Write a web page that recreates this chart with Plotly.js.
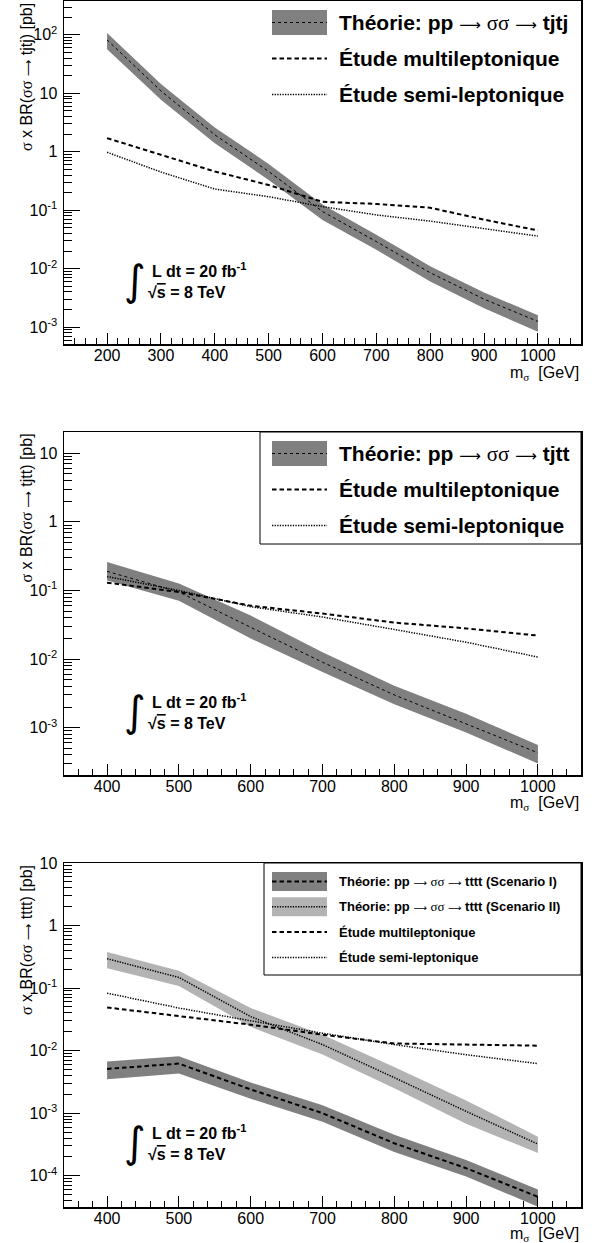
<!DOCTYPE html>
<html><head><meta charset="utf-8">
<script src="https://cdn.plot.ly/plotly-3.0.1.min.js"></script>
<style>body{margin:0;background:#fff}</style></head>
<body><div id="plot" style="width:592px;height:1243px"></div>
<script>
// ---------- Panel 1 : sigma sigma -> tjtj ----------
const mass1   = [200, 300, 400, 500, 600, 700, 800, 900, 1000];
const theo1   = [82, 11, 1.95, 0.46, 0.095, 0.029, 0.0085, 0.0030, 0.00125];
const theo1Up = [108, 14.5, 2.6, 0.62, 0.125, 0.038, 0.011, 0.0039, 0.0016];
const theo1Lo = [57, 7.8, 1.4, 0.33, 0.068, 0.021, 0.0060, 0.0021, 0.00083];
const multi1  = [1.71, 0.89, 0.46, 0.27, 0.139, 0.128, 0.11, 0.069, 0.045];
const semi1   = [0.98, 0.45, 0.23, 0.17, 0.115, 0.083, 0.065, 0.048, 0.036];

// ---------- Panel 2 : sigma sigma -> tjtt ----------
const mass2   = [400, 500, 600, 700, 800, 900, 1000];
const theo2   = [0.19, 0.095, 0.029, 0.0090, 0.0030, 0.00115, 0.00043];
const theo2Up = [0.26, 0.126, 0.043, 0.0126, 0.0041, 0.0016, 0.00056];
const theo2Lo = [0.14, 0.071, 0.020, 0.0065, 0.0022, 0.00085, 0.00030];
const multi2  = [0.13, 0.095, 0.060, 0.046, 0.034, 0.028, 0.022];
const semi2   = [0.16, 0.10, 0.058, 0.041, 0.027, 0.0176, 0.0107];

// ---------- Panel 3 : sigma sigma -> tttt ----------
const mass3     = [400, 500, 600, 700, 800, 900, 1000];
const theoI     = [0.0051, 0.0062, 0.0024, 0.0010, 0.00033, 0.000132, 0.000046];
const theoIUp   = [0.0067, 0.0081, 0.0031, 0.00134, 0.00045, 0.000178, 0.000060];
const theoILo   = [0.0035, 0.0043, 0.0017, 0.00073, 0.00024, 0.0000975, 0.000032];
const theoII    = [0.295, 0.148, 0.035, 0.0125, 0.0037, 0.00107, 0.00032];
const theoIIUp  = [0.377, 0.19, 0.048, 0.018, 0.0055, 0.0016, 0.00042];
const theoIILo  = [0.208, 0.108, 0.024, 0.0087, 0.0025, 0.00068, 0.00023];
const multi3    = [0.049, 0.036, 0.026, 0.018, 0.013, 0.0125, 0.012];
const semi3     = [0.083, 0.048, 0.030, 0.019, 0.0125, 0.0086, 0.0062];

// ---------- tick labels ----------
const yTickVals = [1e-4, 1e-3, 1e-2, 1e-1, 1, 10, 100];
const yTickText = ['10<sup>-4</sup>', '10<sup>-3</sup>', '10<sup>-2</sup>', '10<sup>-1</sup>', '1', '10', '10<sup>2</sup>'];

// ---------- texts ----------
const SIG = '<span style="font-family:\'Liberation Serif\';font-weight:normal">σσ</span>';
const SIG1 = '<span style="font-family:\'Liberation Serif\'">σ</span>';
const ARR = '<span style="font-family:\'DejaVu Sans\';font-weight:normal;font-size:72%">⟶</span>';
const yTitles = [
  SIG1 + ' x BR(' + SIG + ' ' + ARR + ' tjtj) [pb]',
  SIG1 + ' x BR(' + SIG + ' ' + ARR + ' tjtt) [pb]',
  SIG1 + ' x BR(' + SIG + ' ' + ARR + ' tttt) [pb]'
];
const xTitle = 'm<sub>' + SIG1 + '</sub>  [GeV]';
const legTexts = [
  ['Théorie: pp ' + ARR + ' ' + SIG + ' ' + ARR + ' tjtj', 'Étude multileptonique', 'Étude semi-leptonique'],
  ['Théorie: pp ' + ARR + ' ' + SIG + ' ' + ARR + ' tjtt', 'Étude multileptonique', 'Étude semi-leptonique'],
  ['Théorie: pp ' + ARR + ' ' + SIG + ' ' + ARR + ' tttt (Scenario I)',
   'Théorie: pp ' + ARR + ' ' + SIG + ' ' + ARR + ' tttt (Scenario II)',
   'Étude multileptonique', 'Étude semi-leptonique']
];

// ---------- geometry (pixels) ----------
const W = 592, H = 1243;
const FX0 = 64, FX1 = 581;
const panels = [
  {top: 1,   bot: 344,  yr: [-3.29, 2.58], xr: [120, 1080], xt: 29},
  {top: 432, bot: 775,  yr: [-3.69, 1.31], xr: [340, 1060], xt: 28},
  {top: 863, bot: 1207, yr: [-4.5, 1.0],   xr: [340, 1060], xt: 27}
];
const px = v => v / W;
const py = v => 1 - v / H;

const BAND = '#808080', BAND_L = '#b3b3b3';
const DASH_T = '3px,3px', DASH_M = '4.5px,3px', DOT = '1.3px,1.3px';

function minorVals(lo, hi) {
  const out = [];
  for (let d = Math.floor(lo); d <= Math.ceil(hi); d++)
    for (let k = 2; k <= 9; k++) out.push(k * Math.pow(10, d));
  return out;
}

const traces = [];
function band(x, lo, up, ax, color) {
  traces.push({x: x, y: lo, xaxis: ax.x, yaxis: ax.y, mode: 'lines', line: {width: 0, color: color}, hoverinfo: 'skip', showlegend: false});
  traces.push({x: x, y: up, xaxis: ax.x, yaxis: ax.y, mode: 'lines', line: {width: 0, color: color}, fill: 'tonexty', fillcolor: color, hoverinfo: 'skip', showlegend: false});
}
function line(x, y, ax, width, dash) {
  traces.push({x: x, y: y, xaxis: ax.x, yaxis: ax.y, mode: 'lines', line: {width: width, color: '#000', dash: dash}, showlegend: false});
}
const A = [{x: 'x', y: 'y'}, {x: 'x2', y: 'y2'}, {x: 'x3', y: 'y3'}];

band(mass1, theo1Lo, theo1Up, A[0], BAND);
line(mass1, theo1, A[0], 1, DASH_T);
line(mass1, multi1, A[0], 2, DASH_M);
line(mass1, semi1, A[0], 1.5, DOT);

band(mass2, theo2Lo, theo2Up, A[1], BAND);
line(mass2, theo2, A[1], 1, DASH_T);
line(mass2, multi2, A[1], 2, DASH_M);
line(mass2, semi2, A[1], 1.5, DOT);

band(mass3, theoILo, theoIUp, A[2], BAND);
band(mass3, theoIILo, theoIIUp, A[2], BAND_L);
line(mass3, theoI, A[2], 2, DASH_M);
line(mass3, theoII, A[2], 1.5, DOT);
line(mass3, multi3, A[2], 2, DASH_M);
line(mass3, semi3, A[2], 1.5, DOT);

const FONT = 'Liberation Sans, Arial, sans-serif';
const layout = {
  width: W, height: H,
  margin: {l: 0, r: 0, t: 0, b: 0},
  paper_bgcolor: '#fff', plot_bgcolor: '#fff',
  font: {family: FONT, size: 16, color: '#000'},
  showlegend: false,
  shapes: [], annotations: []
};

panels.forEach((p, i) => {
  const sx = i === 0 ? '' : String(i + 1);
  layout['xaxis' + sx] = {
    domain: [px(FX0), px(FX1)], anchor: 'y' + sx, range: p.xr,
    tickmode: 'linear', tick0: 0, dtick: 100, ticks: 'inside', ticklen: 11, tickwidth: 1, tickcolor: '#000',
    minor: {dtick: 20, tick0: 0, ticks: 'inside', ticklen: 6, tickwidth: 1, tickcolor: '#000', showgrid: false},
    showline: true, linewidth: 1.5, linecolor: '#000', mirror: true, showgrid: false, zeroline: false,
    tickfont: {size: 16, family: FONT}, ticklabelstandoff: -4
  };
  layout['yaxis' + sx] = {
    domain: [py(p.bot), py(p.top)], anchor: 'x' + sx, type: 'log', range: p.yr,
    tickmode: 'array', tickvals: yTickVals, ticktext: yTickText,
    ticks: 'inside', ticklen: 16, tickwidth: 1, tickcolor: '#000',
    minor: {tickmode: 'array', tickvals: minorVals(p.yr[0], p.yr[1]), ticks: 'inside', ticklen: 8, tickwidth: 1, tickcolor: '#000', showgrid: false},
    showline: true, linewidth: 1.5, linecolor: '#000', mirror: true, showgrid: false, zeroline: false,
    tickfont: {size: 16, family: FONT}, ticklabelstandoff: 2
  };
  // axis titles
  layout.annotations.push({xref: 'paper', yref: 'paper', x: px(26), y: py(p.top), xanchor: 'center', yanchor: 'top',
    text: yTitles[i], textangle: -90, showarrow: false, font: {size: 16, family: FONT}});
  layout.annotations.push({xref: 'paper', yref: 'paper', x: px(FX1), y: py(p.bot + p.xt), xanchor: 'right', yanchor: 'middle',
    text: xTitle, showarrow: false, font: {size: 16, family: FONT}});
  // luminosity label
  layout.annotations.push({xref: 'paper', yref: 'paper', x: px(148), y: py(p.top + 279), xanchor: 'right', yanchor: 'middle',
    text: '∫', showarrow: false, font: {size: 42, family: 'DejaVu Sans'}});
  layout.annotations.push({xref: 'paper', yref: 'paper', x: px(150), y: py(p.top + 269), xanchor: 'left', yanchor: 'middle',
    text: '<b>L dt = 20 fb<sup>-1</sup></b>', showarrow: false, font: {size: 16, family: FONT}});
  layout.annotations.push({xref: 'paper', yref: 'paper', x: px(146), y: py(p.top + 291), xanchor: 'left', yanchor: 'middle',
    text: '<b>√<span style="text-decoration:overline">s</span> = 8 TeV</b>', showarrow: false, font: {size: 16, family: FONT}});
});

// ---------- legends (drawn by hand) ----------
function legendRow(p, rowY, kind, text, fs) {
  const y = p.top + rowY;
  const h = kind.h || 25;
  if (kind.fill) {
    layout.shapes.push({type: 'rect', xref: 'paper', yref: 'paper', x0: px(272), x1: px(327), y0: py(y - h / 2), y1: py(y + h / 2),
      fillcolor: kind.fill, line: {width: 0}});
  }
  layout.shapes.push({type: 'line', xref: 'paper', yref: 'paper', x0: px(272), x1: px(327), y0: py(y), y1: py(y),
    line: {color: '#000', width: kind.w, dash: kind.dash}});
  layout.annotations.push({xref: 'paper', yref: 'paper', x: px(337), y: py(y), xanchor: 'left', yanchor: 'middle',
    text: '<b>' + text + '</b>', showarrow: false, font: {size: fs, family: FONT}});
}
[0, 1].forEach(i => {
  const p = panels[i];
  legendRow(p, 21.5, {fill: BAND, w: 1, dash: DASH_T, h: 25}, legTexts[i][0], 21);
  legendRow(p, 57.5, {w: 2, dash: DASH_M}, legTexts[i][1], 21);
  legendRow(p, 93.5, {w: 1.5, dash: DOT}, legTexts[i][2], 21);
});
layout.shapes.push({type: 'rect', xref: 'paper', yref: 'paper', x0: px(260), x1: px(FX1), y0: py(panels[1].top + 112), y1: py(panels[1].top),
  line: {color: '#000', width: 1}, fillcolor: 'rgba(0,0,0,0)'});
{
  const p = panels[2];
  legendRow(p, 18.5, {fill: BAND, w: 2, dash: DASH_M, h: 19}, legTexts[2][0], 13);
  legendRow(p, 43.8, {fill: BAND_L, w: 1.5, dash: DOT, h: 19}, legTexts[2][1], 13);
  legendRow(p, 69.1, {w: 2, dash: DASH_M}, legTexts[2][2], 13);
  legendRow(p, 94.4, {w: 1.5, dash: DOT}, legTexts[2][3], 13);
  layout.shapes.push({type: 'rect', xref: 'paper', yref: 'paper', x0: px(264), x1: px(FX1), y0: py(p.top + 112), y1: py(p.top),
    line: {color: '#000', width: 1}, fillcolor: 'rgba(0,0,0,0)'});
}

Plotly.newPlot('plot', traces, layout, {staticPlot: true});
</script>
</body></html>
